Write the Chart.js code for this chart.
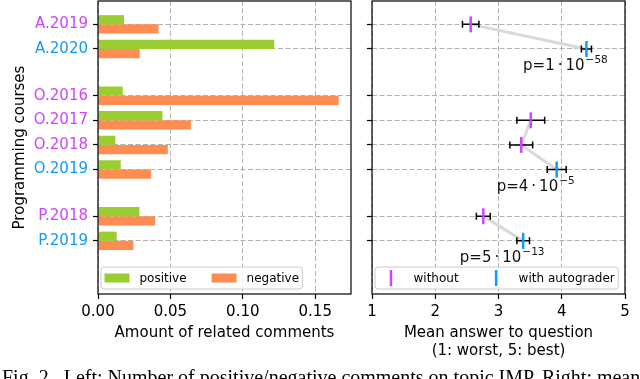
<!DOCTYPE html>
<html>
<head>
<meta charset="utf-8">
<script src="https://cdn.jsdelivr.net/npm/chart.js@4.4.1/dist/chart.umd.min.js"></script>
<style>
  html, body { margin: 0; padding: 0; background: #fff; }
  #wrap { position: relative; width: 640px; height: 379px; overflow: hidden; background: #fff; }
  #left { position: absolute; left: 0; top: 0; }
  #right { position: absolute; left: 360px; top: 0; }
  #caption {
    position: absolute; left: 2px; top: 367px; white-space: nowrap;
    font: 20px/1 "Liberation Serif", serif; color: #000;
  }
</style>
</head>
<body>
<div id="wrap">
  <canvas id="left" width="360" height="379"></canvas>
  <canvas id="right" width="280" height="379"></canvas>
  <div id="caption">Fig. 2.&ensp;Left: Number of positive/negative comments on topic IMP. Right: mean</div>
</div>
<script>
// courses, top to bottom (y positions leave a gap between course groups)
const courses = ["A.2019", "A.2020", "O.2016", "O.2017", "O.2018", "O.2019", "P.2018", "P.2019"];
const rowPos = [0, 1, 2.9, 3.9, 4.9, 5.9, 7.8, 8.8];
const autograder = [false, true, false, false, false, true, false, true];

// left: share of related comments
const positive = [0.018, 0.1217, 0.0171, 0.0445, 0.012, 0.0157, 0.0286, 0.0129];
const negative = [0.0418, 0.0288, 0.1662, 0.0641, 0.0482, 0.0367, 0.0394, 0.0245];
const xTicksLeft = [0, 0.05, 0.10, 0.15];

// right: mean answer with error
const meanAnswer = [2.56, 4.39, null, 3.51, 3.36, 3.92, 2.76, 3.39];
const meanErr = [0.13, 0.08, null, 0.22, 0.18, 0.15, 0.11, 0.10];
const xTicksRight = [1, 2, 3, 4, 5];

// p-values printed under the autograder rows
const pCourse = ["A.2020", "O.2019", "P.2019"];
const pMant = ["1", "4", "5"];
const pExp = ["\u221258", "\u22125", "\u221213"];

const MAGENTA = "#cc44ff";
const BLUE = "#1199ff";
const GRID = "#b0b0b0";
const FONT = '"DejaVu Sans"';

Chart.defaults.font.family = FONT;
Chart.defaults.font.size = 15;
Chart.defaults.color = "#000";

const Y_MIN = -0.95, Y_MAX = 10.96;

function yScale(showLabels, width) {
  return {
    type: "linear",
    reverse: true,
    min: Y_MIN,
    max: Y_MAX,
    offset: false,
    afterBuildTicks: (s) => { s.ticks = rowPos.map((v) => ({ value: v })); },
    afterFit: (s) => { s.width = width; s.paddingTop = 0; s.paddingBottom = 0; },
    ticks: {
      display: showLabels,
      padding: 5,
      callback: (v, i) => courses[i],
      color: (c) => (autograder[c.index] ? BLUE : MAGENTA),
    },
    grid: { offset: false, color: GRID, lineWidth: 1, tickLength: 5, tickColor: "#000", tickWidth: 1.2, tickBorderDash: [] },
    border: { display: false, dash: [5, 2.5] },
  };
}

function xScale(min, max, ticks, fmt, title, height) {
  return {
    type: "linear",
    min: min,
    max: max,
    afterBuildTicks: (s) => { s.ticks = ticks.map((v) => ({ value: v })); },
    afterFit: (s) => { s.height = height; s.paddingLeft = 0; s.paddingRight = 0; },
    ticks: { padding: 4, callback: fmt },
    grid: { color: GRID, lineWidth: 1, tickLength: 5, tickColor: "#000", tickWidth: 1.2, tickBorderDash: [] },
    border: { display: false, dash: [5, 2.5] },
    title: { display: true, text: title, padding: 0, font: { size: 15, lineHeight: 1.2 } },
  };
}

// black box round the plot area
const frameBox = {
  id: "frameBox",
  afterDraw(chart) {
    const { ctx, chartArea: a } = chart;
    ctx.save();
    ctx.strokeStyle = "#000";
    ctx.lineWidth = 1.2;
    ctx.strokeRect(a.left, a.top, a.right - a.left, a.bottom - a.top);
    ctx.restore();
  },
};

// matplotlib-like legend, lower left inside the axes
const boxLegend = {
  id: "boxLegend",
  afterDraw(chart) {
    const { ctx, chartArea: a } = chart;
    const sets = chart.data.datasets.filter((d) => d.inLegend !== false);
    ctx.save();
    ctx.font = "12px " + FONT;
    const pad = 3.5, handle = 25, gap = 10, colGap = 25;
    let w = pad * 2;
    sets.forEach((d, k) => {
      w += handle + gap + ctx.measureText(d.label).width + (k ? colGap : 0);
    });
    const left = a.left + 3, top = a.bottom - 27, h = 22, cy = top + h / 2;
    ctx.beginPath();
    if (ctx.roundRect) ctx.roundRect(left, top, w, h, 3);
    else ctx.rect(left, top, w, h);
    ctx.fillStyle = "rgba(255,255,255,0.8)";
    ctx.fill();
    ctx.strokeStyle = "#cccccc";
    ctx.lineWidth = 1;
    ctx.stroke();
    let x = left + pad;
    sets.forEach((d) => {
      if (chart.config.type === "bar") {
        ctx.fillStyle = d.backgroundColor;
        ctx.fillRect(x, cy - 4.5, handle, 9);
      } else {
        ctx.strokeStyle = d.pointBorderColor;
        ctx.lineWidth = 2.5;
        ctx.beginPath();
        ctx.moveTo(x + handle / 2, cy - 8);
        ctx.lineTo(x + handle / 2, cy + 8);
        ctx.stroke();
      }
      ctx.fillStyle = "#000";
      ctx.textBaseline = "middle";
      ctx.fillText(d.label, x + handle + gap, cy + 0.5);
      x += handle + gap + ctx.measureText(d.label).width + colGap;
    });
    ctx.restore();
  },
};

// horizontal error bars, drawn over the grey link and under the markers
const errorBars = {
  id: "errorBars",
  afterDatasetDraw(chart, args) {
    if (chart.data.datasets[args.index].label !== "link") return;
    const { ctx, scales: { x, y } } = chart;
    ctx.save();
    ctx.strokeStyle = "#000";
    ctx.lineWidth = 1.5;
    courses.forEach((c, i) => {
      if (meanAnswer[i] == null) return;
      const py = y.getPixelForValue(rowPos[i]);
      const x0 = x.getPixelForValue(meanAnswer[i] - meanErr[i]);
      const x1 = x.getPixelForValue(meanAnswer[i] + meanErr[i]);
      ctx.beginPath();
      ctx.moveTo(x0, py); ctx.lineTo(x1, py);
      ctx.moveTo(x0, py - 3.5); ctx.lineTo(x0, py + 3.5);
      ctx.moveTo(x1, py - 3.5); ctx.lineTo(x1, py + 3.5);
      ctx.stroke();
    });
    ctx.restore();
  },
};

const pLabels = {
  id: "pLabels",
  afterDatasetsDraw(chart) {
    const { ctx, scales: { x, y } } = chart;
    ctx.save();
    ctx.fillStyle = "#111";
    ctx.textBaseline = "alphabetic";
    pCourse.forEach((name, k) => {
      const i = courses.indexOf(name);
      const main = "p=" + pMant[k] + "\u2009\u00b7\u200910";
      ctx.font = "15px " + FONT;
      const wMain = ctx.measureText(main).width;
      ctx.font = "10.5px " + FONT;
      const wSup = ctx.measureText(pExp[k]).width;
      const cx = x.getPixelForValue(meanAnswer[i]) - 21;
      const cy = y.getPixelForValue(rowPos[i] + 0.64);
      const x0 = cx - (wMain + wSup + 1) / 2;
      const base = cy + 5.5;
      ctx.font = "15px " + FONT;
      ctx.fillText(main, x0, base);
      ctx.font = "10.5px " + FONT;
      ctx.fillText(pExp[k], x0 + wMain + 1, base - 7);
    });
    ctx.restore();
  },
};

// ---- left chart: horizontal grouped bars
new Chart(document.getElementById("left"), {
  type: "bar",
  data: {
    datasets: [
      {
        label: "positive",
        data: positive.map((v, i) => ({ x: v, y: rowPos[i] })),
        backgroundColor: "#9acd32",
        categoryPercentage: 0.75,
        barPercentage: 1,
      },
      {
        label: "negative",
        data: negative.map((v, i) => ({ x: v, y: rowPos[i] })),
        backgroundColor: "#ff8c50",
        categoryPercentage: 0.75,
        barPercentage: 1,
      },
    ],
  },
  options: {
    indexAxis: "y",
    responsive: false,
    animation: false,
    events: [],
    layout: { autoPadding: false, padding: { top: 1, right: 9, bottom: 37, left: 0 } },
    plugins: { legend: { display: false }, tooltip: { enabled: false } },
    scales: {
      x: xScale(0, 0.1747, xTicksLeft, (v) => v.toFixed(2), "Amount of related comments", 48),
      y: Object.assign(yScale(true, 98), {
        title: { display: true, text: "Programming courses", padding: { top: 11, bottom: 0 }, font: { size: 15, lineHeight: 1.2 } },
      }),
    },
  },
  plugins: [frameBox, boxLegend],
});

// ---- right chart: mean answers
const withoutPts = [];
const withPts = [];
const linkPts = [];
courses.forEach((c, i) => {
  if (i > 0 && c[0] !== courses[i - 1][0]) linkPts.push({ x: null, y: null });
  linkPts.push({ x: meanAnswer[i], y: rowPos[i] });
  if (meanAnswer[i] == null) return;
  (autograder[i] ? withPts : withoutPts).push({ x: meanAnswer[i], y: rowPos[i] });
});

new Chart(document.getElementById("right"), {
  type: "scatter",
  data: {
    datasets: [
      {
        label: "without",
        data: withoutPts,
        pointStyle: "line",
        pointRotation: 90,
        pointRadius: 8,
        pointBorderWidth: 2.5,
        pointBorderColor: MAGENTA,
        pointBackgroundColor: MAGENTA,
      },
      {
        label: "with autograder",
        data: withPts,
        pointStyle: "line",
        pointRotation: 90,
        pointRadius: 8,
        pointBorderWidth: 2.5,
        pointBorderColor: BLUE,
        pointBackgroundColor: BLUE,
      },
      {
        label: "link",
        inLegend: false,
        data: linkPts,
        showLine: true,
        spanGaps: false,
        borderColor: "#d9d9d9",
        borderWidth: 3,
        pointRadius: 0,
      },
    ],
  },
  options: {
    responsive: false,
    animation: false,
    events: [],
    layout: { autoPadding: false, padding: { top: 1, right: 15, bottom: 19, left: 0 } },
    plugins: { legend: { display: false }, tooltip: { enabled: false } },
    scales: {
      x: xScale(1, 5, xTicksRight, (v) => String(v), ["Mean answer to question", "(1: worst, 5: best)"], 66),
      y: yScale(false, 12),
    },
  },
  plugins: [frameBox, errorBars, pLabels, boxLegend],
});
</script>
</body>
</html>
